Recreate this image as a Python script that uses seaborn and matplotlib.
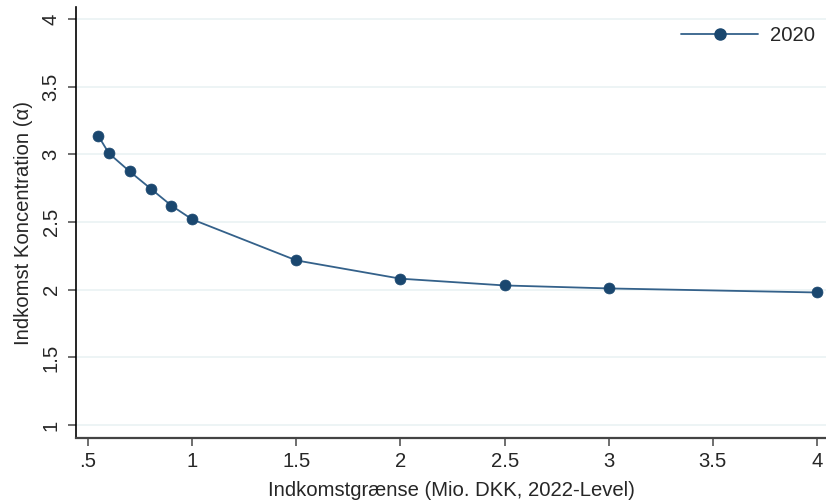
import numpy as np
import pandas as pd
import matplotlib
matplotlib.use('Agg')
import matplotlib.pyplot as plt
import seaborn as sns

# values
thresholds = [0.55, 0.6, 0.7, 0.8, 0.9, 1.0, 1.5, 2.0, 2.5, 3.0, 4.0]
alpha_2020 = [3.135, 3.008, 2.874, 2.748, 2.622, 2.52, 2.217, 2.082, 2.032, 2.01, 1.98]
year_label = '2020'

x_ticks = [0.5, 1, 1.5, 2, 2.5, 3, 3.5, 4]
x_ticklabels = ['.5', '1', '1.5', '2', '2.5', '3', '3.5', '4']
y_ticks = [1, 1.5, 2, 2.5, 3, 3.5, 4]
y_ticklabels = ['1', '1.5', '2', '2.5', '3', '3.5', '4']

df = pd.DataFrame({'grænse': thresholds, 'alpha': alpha_2020, 'år': year_label})

sns.set_style('white')
plt.rcParams['font.family'] = ['Liberation Sans', 'DejaVu Sans']

navy = '#1a476f'
line_col = '#34618a'
grid_col = '#eaf2f3'
fs = 14.6

fig = plt.figure(figsize=(8.26, 5.03), dpi=100)
ax = fig.add_axes([0.092, 0.129, 0.908, 0.857])

sns.lineplot(data=df, x='grænse', y='alpha', hue='år', palette=[line_col],
             linewidth=1.3, ax=ax, legend=False)
sns.scatterplot(data=df, x='grænse', y='alpha', color=navy, s=62,
                edgecolor=navy, linewidth=0.5, ax=ax, zorder=3, legend=False)

ax.set_xlim(0.442, 4.043)
ax.set_ylim(0.904, 4.089)
ax.set_xticks(x_ticks)
ax.set_xticklabels(x_ticklabels, fontsize=fs)
ax.set_yticks(y_ticks)
ax.set_yticklabels(y_ticklabels, fontsize=fs, rotation=90, va='center')
ax.tick_params(axis='x', pad=4)
ax.tick_params(axis='y', pad=5)
ax.tick_params(axis='both', direction='out', length=6, width=1.2, color='#555555',
               bottom=True, left=True)

ax.grid(axis='y', color=grid_col, linewidth=1.2)
ax.grid(axis='x', visible=False)
ax.set_axisbelow(True)
for side in ['top', 'right']:
    ax.spines[side].set_visible(False)
ax.spines['left'].set_color('black')
ax.spines['left'].set_linewidth(1.2)
ax.spines['bottom'].set_color('#444444')
ax.spines['bottom'].set_linewidth(1.6)

ax.set_xlabel('Indkomstgrænse (Mio. DKK, 2022-Level)', fontsize=fs, labelpad=7)
ax.set_ylabel('Indkomst Koncentration (\u03b1)', fontsize=fs, labelpad=6)

handle = plt.Line2D([], [], color=line_col, linewidth=1.3, marker='o',
                    markersize=8, markerfacecolor=navy, markeredgecolor=navy)
ax.legend([handle], [year_label], loc='upper right', frameon=False, fontsize=fs,
          handlelength=3.8, handletextpad=0.6, bbox_to_anchor=(1.01, 0.998))

fig.savefig('out.png', dpi=100)
